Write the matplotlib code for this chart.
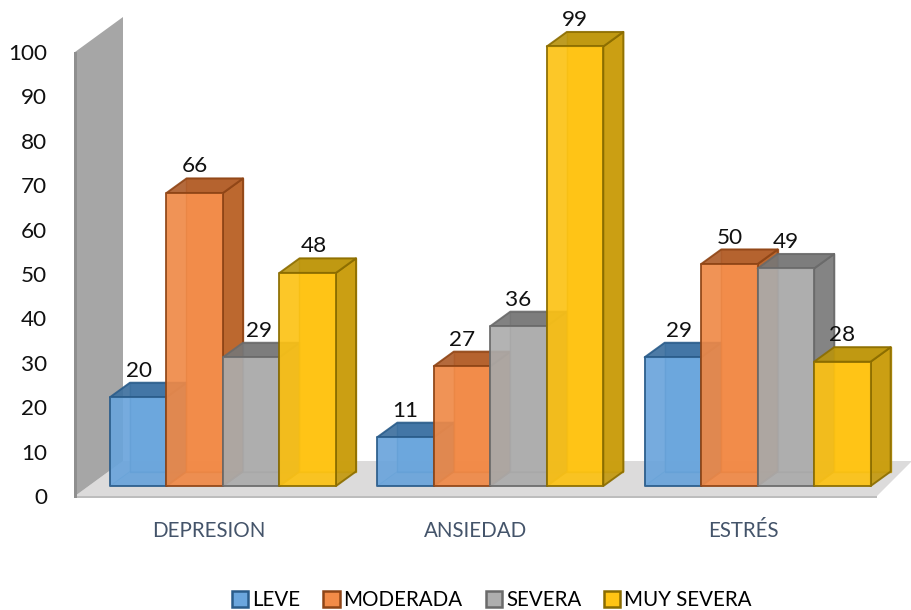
import matplotlib
matplotlib.use("Agg")
import matplotlib.pyplot as plt
from matplotlib.patches import Polygon, Patch

categories = ["DEPRESION", "ANSIEDAD", "ESTRÉS"]
series_names = ["LEVE", "MODERADA", "SEVERA", "MUY SEVERA"]
leve = [20, 11, 29]
moderada = [66, 27, 50]
severa = [29, 36, 49]
muy_severa = [48, 99, 28]
y_ticks = list(range(0, 101, 10))

plt.rcParams["font.family"] = ["Lato", "DejaVu Sans"]
W, H = 912, 610
fig = plt.figure(figsize=(W / 100, H / 100), dpi=100)
L, R, B, T = 75, 877, 496, 52
ax = fig.add_axes([L / W, (H - B) / H, (R - L) / W, (B - T) / H])
ax.set_xlim(-0.5, 2.5)
ax.set_ylim(0, 100)
PX = 3 / (R - L)      # data x per pixel
PY = 100 / (B - T)    # data y per pixel

for s in ax.spines.values():
    s.set_visible(False)
ax.set_yticks(y_ticks)
ax.set_xticks(range(3))
ax.set_xticklabels(categories, fontsize=14.8, color="#44546a")
ax.tick_params(axis="y", length=0, pad=20, labelsize=16.2, labelcolor="#111111")
ax.tick_params(axis="x", length=0, pad=18)


def poly(pts, **kw):
    kw.setdefault("clip_on", False)
    ax.add_patch(Polygon(pts, closed=True, **kw))


# walls and floor (pixel offsets converted to data)
x0, x1 = -0.5, 2.5
wall_dx, wall_dy = 48 * PX, 35 * PY
poly([(x0, -2 * PY), (x1, -2 * PY), (x1, 0), (x0, 0)], fc="#bdbdbd", ec="none", zorder=1)
poly([(x0, 0), (x1, 0), (x1 + 35 * PX, 35 * PY), (x0 + wall_dx, wall_dy)],
     fc="#dcdbdb", ec="none", zorder=1)
poly([(x0, 0), (x0 + wall_dx, wall_dy), (x0 + wall_dx, 100 + wall_dy), (x0, 100)],
     fc="#a6a6a6", ec="none", zorder=1)
poly([(x0 - 1 * PX, -2 * PY), (x0 + 2 * PX, -2 * PY), (x0 + 2 * PX, 100), (x0 - 1 * PX, 100)],
     fc="#8f8f8f", ec="none", zorder=1)

# bars
face = ["#6ba6dd", "#f28b48", "#aeaeae", "#ffc414"]
side = ["#3f7aae", "#b5622a", "#7d7d7d", "#c49a10"]
top = ["#3c6f9e", "#ad5c2a", "#767676", "#b8930f"]
edge = ["#2a5c8a", "#8f4516", "#6a6a6a", "#8a6c00"]
values = [leve, moderada, severa, muy_severa]

bar_w = 56.5 * PX
ddx, ddy = 20 * PX, 14.5 * PY
base = 10 * PY
first = 35 * PX
# labels that the reference moves sideways, in pixels: (group, series) -> shift
label_shift = {(0, 0): 1, (0, 2): 8, (0, 3): 6, (2, 0): 6}
z = 2
for g in range(3):
    for j, vals in enumerate(values):
        v = vals[g]
        xa = g - 0.5 + first + j * bar_w
        xb = xa + bar_w
        yb, yt = base, base + v
        kw = dict(lw=1.4, zorder=z, joinstyle="round")
        thin = dict(lw=1.0, zorder=z, alpha=0.9)
        # hidden faces seen through the translucent front
        poly([(xa + ddx, yb + ddy), (xb + ddx, yb + ddy), (xb + ddx, yt + ddy), (xa + ddx, yt + ddy)],
             fc=face[j], ec=side[j], **thin)
        poly([(xa, yb), (xa + ddx, yb + ddy), (xa + ddx, yt + ddy), (xa, yt)],
             fc=side[j], ec=side[j], lw=0.6, zorder=z, alpha=0.3)
        poly([(xa, yb), (xb, yb), (xb + ddx, yb + ddy), (xa + ddx, yb + ddy)],
             fc=side[j], ec=side[j], lw=0.6, zorder=z, alpha=0.4)
        # visible faces
        poly([(xb, yb), (xb + ddx, yb + ddy), (xb + ddx, yt + ddy), (xb, yt)],
             fc=side[j], ec=edge[j], alpha=0.88, **kw)
        poly([(xa, yt), (xb, yt), (xb + ddx, yt + ddy), (xa + ddx, yt + ddy)],
             fc=top[j], ec=edge[j], alpha=0.88, **kw)
        poly([(xa, yb), (xb, yb), (xb, yt), (xa, yt)],
             fc=face[j], ec=edge[j], alpha=0.88, **kw)
        z += 1
        ax.text(xa + bar_w / 2 + label_shift.get((g, j), 0) * PX, yt + ddy + 12 * PY, str(v),
                ha="center", va="center", fontsize=16.2, color="#111111", zorder=100)

handles = [Patch(fc=face[j], ec=edge[j], lw=1.8) for j in range(4)]
fig.legend(handles, series_names, loc="center", bbox_to_anchor=(492 / W, (H - 600) / H),
           ncol=4, frameon=False, fontsize=14.8, handlelength=0.78, handleheight=0.78,
           handletextpad=0.2, columnspacing=1.12, borderpad=0)

fig.savefig("out.png", dpi=100)
